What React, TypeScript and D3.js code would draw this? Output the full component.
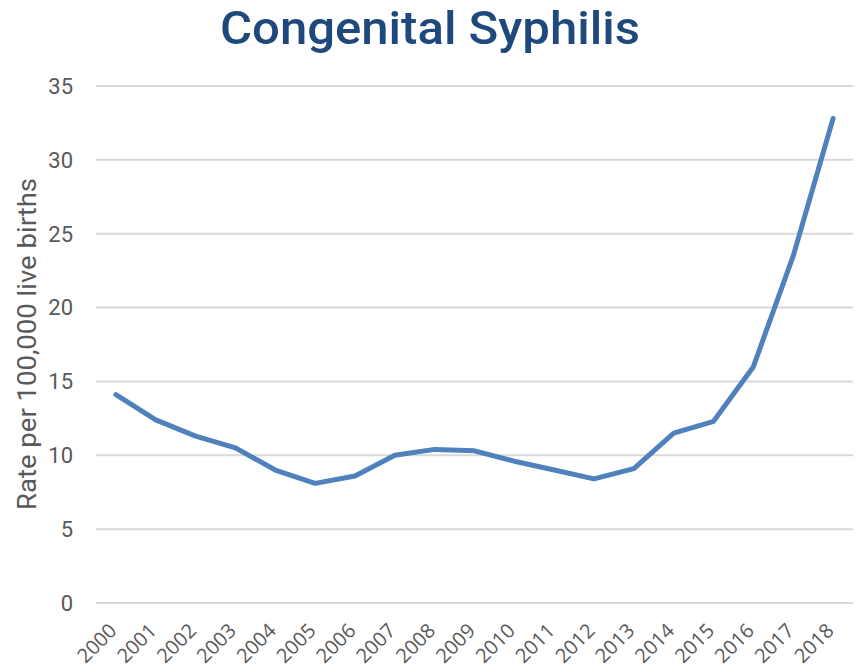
import React from "react";
import { scaleLinear, scalePoint, line } from "d3";

const years = [
  "2000", "2001", "2002", "2003", "2004", "2005", "2006", "2007", "2008", "2009",
  "2010", "2011", "2012", "2013", "2014", "2015", "2016", "2017", "2018",
];
const rates = [
  14.1, 12.4, 11.3, 10.5, 9.0, 8.1, 8.6, 10.0, 10.4, 10.3,
  9.6, 9.0, 8.4, 9.1, 11.5, 12.3, 16.0, 23.5, 32.8,
];
const yTicks = [0, 5, 10, 15, 20, 25, 30, 35];

const width = 856;
const height = 670;
const margin = { top: 86, right: 3, bottom: 67, left: 96 };

// Congenital syphilis rate line chart
function App() {
  const xScale = scalePoint<string>()
    .domain(years)
    .range([margin.left, width - margin.right])
    .padding(0.5);

  const yScale = scaleLinear()
    .domain([0, 35])
    .range([height - margin.bottom, margin.top]);

  const pathGen = line<number>()
    .x((d, i) => xScale(years[i]) as number)
    .y(d => yScale(d));

  return (
    <svg
      width={width}
      height={height}
      style={{ position: "absolute", left: 0, top: 0, background: "#fff" }}
    >
      <text
        x={430}
        y={44}
        textAnchor="middle"
        fontFamily="Roboto, sans-serif"
        fontWeight={500}
        fontSize={47}
        textLength={420}
        lengthAdjust="spacingAndGlyphs"
        fill="#1F497D"
      >
        Congenital Syphilis
      </text>

      {/* grid + y ticks */}
      {yTicks.map(t => (
        <g key={t}>
          <line
            x1={margin.left}
            x2={width - margin.right}
            y1={yScale(t)}
            y2={yScale(t)}
            stroke="#D9D9D9"
            strokeWidth={2}
          />
          <text
            x={73}
            y={yScale(t)}
            dy="0.36em"
            textAnchor="end"
            fontFamily="Roboto, sans-serif"
            fontSize={22}
            fill="#595959"
          >
            {t}
          </text>
        </g>
      ))}

      {/* x labels */}
      {years.map(y => (
        <text
          key={y}
          transform={`translate(${(xScale(y) as number) + 2}, 632) rotate(-45)`}
          textAnchor="end"
          fontFamily="'Open Sans', sans-serif"
          fontSize={20}
          fill="#595959"
        >
          {y}
        </text>
      ))}

      <text
        transform={`translate(36, 344) rotate(-90)`}
        textAnchor="middle"
        fontFamily="Roboto, sans-serif"
        fontSize={25}
        textLength={332}
        lengthAdjust="spacingAndGlyphs"
        fill="#595959"
      >
        Rate per 100,000 live births
      </text>

      <path
        d={pathGen(rates) ?? ""}
        fill="none"
        stroke="#4F81BD"
        strokeWidth={5}
        strokeLinejoin="round"
        strokeLinecap="round"
      />
    </svg>
  );
}

export default App;
